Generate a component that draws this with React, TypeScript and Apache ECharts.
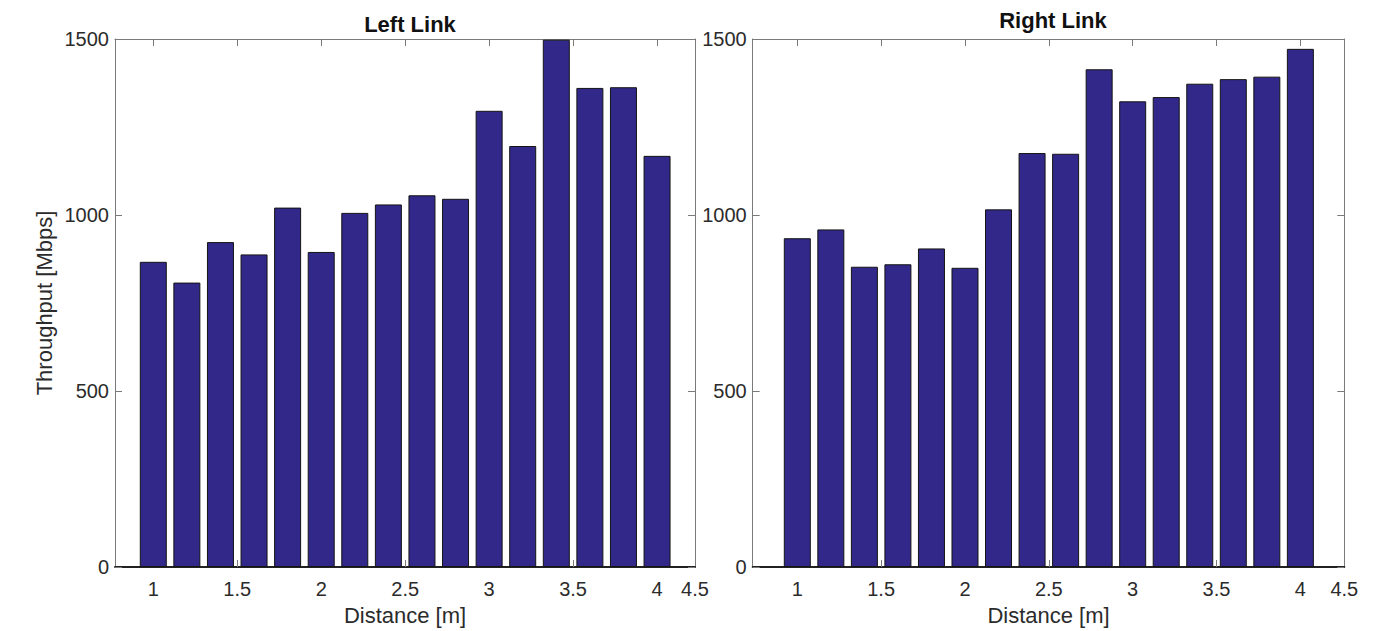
import React, { useEffect, useRef } from "react";
import * as echarts from "echarts";

const distances = [1.0, 1.2, 1.4, 1.6, 1.8, 2.0, 2.2, 2.4, 2.6, 2.8, 3.0, 3.2, 3.4, 3.6, 3.8, 4.0];
const leftThroughput = [867, 808, 923, 888, 1021, 895, 1006, 1030, 1056, 1046, 1296, 1196, 1498, 1361, 1363, 1168];
const rightThroughput = [934, 959, 853, 860, 905, 850, 1016, 1176, 1174, 1414, 1323, 1335, 1373, 1386, 1393, 1472];
const xTickValues = [1, 1.5, 2, 2.5, 3, 3.5, 4];
const xTickLabels = ["1", "1.5", "2", "2.5", "3", "3.5", "4", "4.5"];
const yTickValues = [0, 500, 1000, 1500];
const panelTitles = ["Left Link", "Right Link"];
const xAxisTitle = "Distance [m]";
const yAxisTitle = "Throughput [Mbps]";

const xRanges = [
  [0.772, 4.226],
  [0.734, 4.262],
];
const grids = [
  { left: 115, top: 39, width: 580, height: 530.5 },
  { left: 752.7, top: 39, width: 591.6, height: 530.5 },
];
const titlePos = [
  { x: 405, top: 8 },
  { x: 1048, top: 4 },
];

const BAR = "#31288A";
const GRAY = "#7a7a7a";
const TEXT = "#2b2b2b";
const FONT = "'Liberation Sans', Arial, Helvetica, sans-serif";

export default function App() {
  const ref = useRef<HTMLDivElement>(null);
  useEffect(() => {
    document.body.style.margin = "0";
    if (!ref.current) return;
    const chart = echarts.init(ref.current, undefined, { renderer: "svg" });
    const seriesData = [leftThroughput, rightThroughput];
    const yMax = yTickValues[yTickValues.length - 1];
    const yInterval = yTickValues[1] - yTickValues[0];

    const xAxes: any[] = [];
    const yAxes: any[] = [];
    const series: any[] = [];
    grids.forEach((g, gi) => {
      const [xMin, xMax] = xRanges[gi];
      const labelValues = [...xTickValues, xMax];
      xAxes.push({
        type: "value",
        gridIndex: gi,
        position: "bottom",
        min: xMin,
        max: xMax,
        name: xAxisTitle,
        nameLocation: "middle",
        nameGap: 37,
        nameTextStyle: { fontFamily: FONT, fontSize: 22, color: TEXT },
        axisLine: { show: true, onZero: false, lineStyle: { color: "#222", width: 2 } },
        axisTick: { show: true, inside: true, length: 7, customValues: xTickValues, lineStyle: { color: GRAY } },
        axisLabel: {
          show: true,
          customValues: labelValues,
          showMinLabel: true,
          showMaxLabel: true,
          margin: 12,
          fontFamily: FONT,
          fontSize: 20,
          color: TEXT,
          formatter: (v: number) => {
            const idx = labelValues.findIndex((t) => Math.abs(t - v) < 1e-6);
            return idx >= 0 ? xTickLabels[idx] : "";
          },
        },
        splitLine: { show: false },
      });
      xAxes.push({
        type: "value",
        gridIndex: gi,
        position: "top",
        min: xMin,
        max: xMax,
        axisLine: { show: true, onZero: false, lineStyle: { color: GRAY, width: 1 } },
        axisTick: { show: true, inside: true, length: 7, customValues: xTickValues, lineStyle: { color: GRAY } },
        axisLabel: { show: false },
        splitLine: { show: false },
      });
      yAxes.push({
        type: "value",
        gridIndex: gi,
        position: "left",
        min: 0,
        max: yMax,
        interval: yInterval,
        name: gi === 0 ? yAxisTitle : "",
        nameLocation: "middle",
        nameGap: 60,
        nameTextStyle: { fontFamily: FONT, fontSize: 22, color: TEXT },
        axisLine: { show: true, onZero: false, lineStyle: { color: GRAY, width: 1 } },
        axisTick: { show: true, inside: true, length: 7, lineStyle: { color: GRAY } },
        axisLabel: {
          show: true,
          margin: 6,
          fontFamily: FONT,
          fontSize: 20,
          color: TEXT,
          formatter: (v: number) => String(v),
        },
        splitLine: { show: false },
      });
      yAxes.push({
        type: "value",
        gridIndex: gi,
        position: "right",
        min: 0,
        max: yMax,
        interval: yInterval,
        axisLine: { show: true, onZero: false, lineStyle: { color: GRAY, width: 1 } },
        axisTick: { show: true, inside: true, length: 7, lineStyle: { color: GRAY } },
        axisLabel: { show: false },
        splitLine: { show: false },
      });
      series.push({
        type: "bar",
        xAxisIndex: gi * 2,
        yAxisIndex: gi * 2,
        data: distances.map((d, i) => [d, seriesData[gi][i]]),
        barWidth: 27,
        itemStyle: { color: BAR, borderColor: "#141414", borderWidth: 1 },
      });
    });

    chart.setOption({
      animation: false,
      backgroundColor: "#ffffff",
      title: panelTitles.map((t, i) => ({
        text: t,
        left: titlePos[i].x,
        top: titlePos[i].top,
        textAlign: "center",
        textStyle: { fontFamily: FONT, fontSize: 22, fontWeight: "bold", color: "#111" },
      })),
      grid: grids.map((g) => ({ ...g, containLabel: false })),
      xAxis: xAxes,
      yAxis: yAxes,
      series,
    });
    return () => chart.dispose();
  }, []);
  return <div ref={ref} style={{ width: 1390, height: 631 }} />;
}
